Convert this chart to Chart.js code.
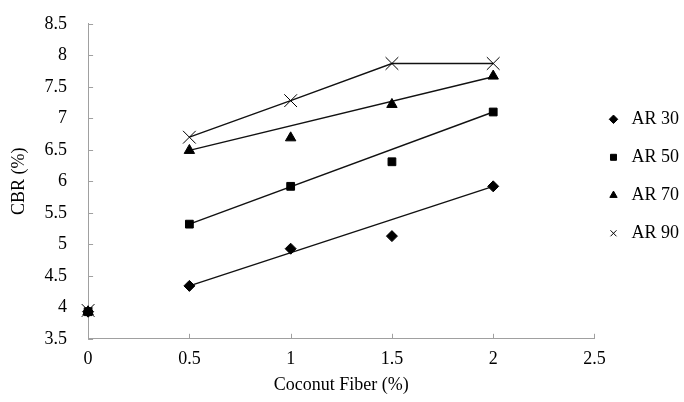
<!DOCTYPE html>
<html>
<head>
<meta charset="utf-8">
<script src="https://cdn.jsdelivr.net/npm/chart.js@4/dist/chart.umd.min.js"></script>
<style>
  html, body { margin: 0; padding: 0; background: #fff; }
  #wrap { width: 684px; height: 402px; }
</style>
</head>
<body>
<div id="wrap"><canvas id="cbrChart" width="684" height="402"></canvas></div>
<script>
// values
const fiber = [0, 0.5, 1, 1.5, 2];
const ar30 = [3.93, 4.34, 4.93, 5.13, 5.92];
const ar50 = [3.93, 5.32, 5.92, 6.31, 7.10];
const ar70 = [3.93, 6.49, 6.69, 7.22, 7.67];
const ar90 = [3.95, 6.70, 7.28, 7.87, 7.87];

// linear trend lines drawn from 0.5 to 2
const trendX = [0.5, 2];
const trend30 = [4.34, 5.92];
const trend50 = [5.32, 7.10];
const trend70 = [6.49, 7.66];

const xTicks = [0, 0.5, 1, 1.5, 2, 2.5];
const yTicks = [3.5, 4, 4.5, 5, 5.5, 6, 6.5, 7, 7.5, 8, 8.5];

const axisColor = '#a0a0a0';
const serif = "'Liberation Serif', 'Times New Roman', serif";

function pts(xs, ys) {
    return xs.map((x, i) => ({x: x, y: ys[i]}));
}

function markers(label, ys, style, r) {
    return {
        label: label,
        data: pts(fiber, ys),
        pointStyle: style,
        pointRadius: r,
        pointHoverRadius: r,
        backgroundColor: '#000',
        borderColor: '#000',
        borderWidth: 1,
        showLine: false,
        clip: false,
        order: 0
    };
}

function trend(xs, ys) {
    return {
        label: '',
        data: pts(xs, ys),
        showLine: true,
        pointRadius: 0,
        borderColor: '#111',
        borderWidth: 1.4,
        fill: false,
        order: 1
    };
}

// inward tick marks like the original
const innerTicks = {
    id: 'innerTicks',
    beforeDatasetsDraw(chart) {
        const {ctx, chartArea, scales} = chart;
        ctx.save();
        ctx.strokeStyle = axisColor;
        ctx.lineWidth = 1;
        ctx.beginPath();
        scales.x.ticks.forEach(t => {
            const px = Math.round(scales.x.getPixelForValue(t.value)) + 0.5;
            ctx.moveTo(px, chartArea.bottom);
            ctx.lineTo(px, chartArea.bottom - 5);
        });
        scales.y.ticks.forEach(t => {
            const py = Math.round(scales.y.getPixelForValue(t.value)) + 0.5;
            ctx.moveTo(chartArea.left, py);
            ctx.lineTo(chartArea.left + 5, py);
        });
        ctx.stroke();
        ctx.restore();
    }
};

const ctx = document.getElementById('cbrChart').getContext('2d');
const cbrChart = new Chart(ctx, {
    type: 'scatter',
    data: {
        datasets: [
            markers('AR 30', ar30, 'rectRot', 5.5),
            markers('AR 50', ar50, 'rect', 5.5),
            markers('AR 70', ar70, 'triangle', 6),
            markers('AR 90', ar90, 'crossRot', 9),
            trend(trendX, trend30),
            trend(trendX, trend50),
            trend(trendX, trend70),
            trend(fiber.slice(1), ar90.slice(1))
        ]
    },
    options: {
        responsive: false,
        animation: false,
        layout: {
            padding: {left: 8, right: -5, top: -4, bottom: 6}
        },
        plugins: {
            tooltip: {enabled: false},
            legend: {
                position: 'right',
                fullSize: false,
                labels: {
                    usePointStyle: true,
                    boxHeight: 6,
                    padding: 10,
                    color: '#000',
                    font: {family: serif, size: 18, lineHeight: '28px'},
                    // one-line arrays so the row height follows lineHeight
                    generateLabels: chart => Chart.defaults.plugins.legend.labels.generateLabels(chart)
                        .filter(item => item.text !== '')
                        .map(item => Object.assign(item, {text: [item.text]}))
                }
            }
        },
        scales: {
            x: {
                type: 'linear',
                min: 0,
                max: 2.5,
                afterBuildTicks: s => { s.ticks = xTicks.map(v => ({value: v})); },
                grid: {display: false},
                border: {display: true, color: axisColor, width: 1},
                ticks: {
                    color: '#000',
                    padding: 2,
                    font: {family: serif, size: 18},
                    callback: v => String(v)
                },
                title: {
                    display: true,
                    text: 'Coconut Fiber (%)',
                    color: '#000',
                    font: {family: serif, size: 18},
                    padding: {top: 2, bottom: 0}
                }
            },
            y: {
                type: 'linear',
                min: 3.5,
                max: 8.5,
                afterBuildTicks: s => { s.ticks = yTicks.map(v => ({value: v})); },
                grid: {display: false},
                border: {display: true, color: axisColor, width: 1},
                ticks: {
                    color: '#000',
                    padding: 13,
                    font: {family: serif, size: 18},
                    callback: v => String(v)
                },
                title: {
                    display: true,
                    text: 'CBR (%)',
                    color: '#000',
                    font: {family: serif, size: 18},
                    padding: {top: 0, bottom: 2}
                }
            }
        }
    },
    plugins: [innerTicks]
});
</script>
</body>
</html>
